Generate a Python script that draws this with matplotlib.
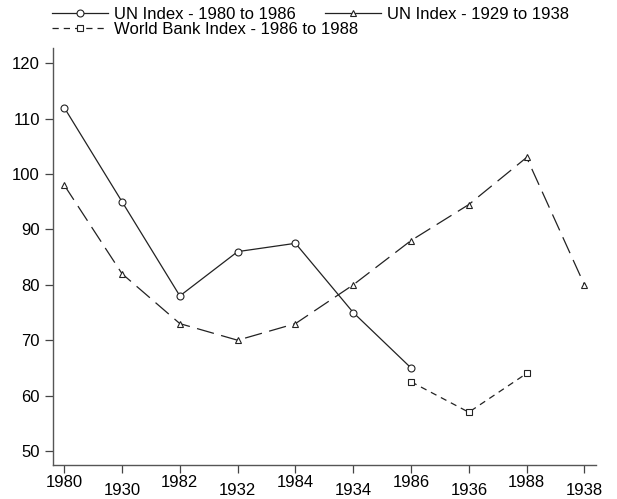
import matplotlib
matplotlib.use('Agg')
import matplotlib.pyplot as plt
from matplotlib.lines import Line2D

plt.rcParams['font.family'] = ['Liberation Sans', 'DejaVu Sans']

tick_labels = ['1980', '1930', '1982', '1932', '1984', '1934', '1986', '1936', '1988', '1938']
un_1980 = [112, 95, 78, 86, 87.5, 75, 65]
un_1929 = [98, 82, 73, 70, 73, 80, 88, 94.5, 103, 80]
wb_1986 = [62.5, 57, 64]
wb_start = 6

fig = plt.figure(figsize=(6.17, 4.99), dpi=100)
ax = fig.add_axes([0.0859, 0.0681, 0.880, 0.835])

c = '#222222'
l1, = ax.plot(range(len(un_1980)), un_1980, color=c, lw=0.9, marker='o', ms=5,
              mfc='white', mec=c, mew=0.8, label='UN Index - 1980 to 1986')
l2, = ax.plot(range(len(un_1929)), un_1929, color=c, lw=0.9, marker='^', ms=5,
              mfc='white', mec=c, mew=0.8, dashes=(14, 6), label='UN Index - 1929 to 1938')
l3, = ax.plot(range(wb_start, wb_start + len(wb_1986)), wb_1986, color=c, lw=0.9,
              marker='s', ms=5, mfc='white', mec=c, mew=0.8, dashes=(5, 4),
              label='World Bank Index - 1986 to 1988')

ax.set_xlim(-0.195, 9.2)
ax.set_ylim(47.47, 122.7)
ax.set_yticks([50, 60, 70, 80, 90, 100, 110, 120])

even = list(range(0, 10, 2))
odd = list(range(1, 10, 2))
ax.set_xticks(even, [tick_labels[i] for i in even])
ax.set_xticks(odd, [tick_labels[i] for i in odd], minor=True)
ax.tick_params(axis='both', which='both', labelsize=12, color='#444444', width=0.9, direction='out')
ax.tick_params(axis='x', which='major', length=5.8, pad=1.4)
ax.tick_params(axis='x', which='minor', length=5.8, pad=7.2)
ax.tick_params(axis='y', length=5.8, pad=3.6)

for s in ['top', 'right']:
    ax.spines[s].set_visible(False)
for s in ['left', 'bottom']:
    ax.spines[s].set_color('#555555')
    ax.spines[s].set_linewidth(1.0)

# legend handles: the long-dash series shows as a solid short stroke
h2 = Line2D([], [], color=c, lw=0.9, marker='^', ms=4.5, mfc='white', mec=c, mew=0.8,
            label=l2.get_label())

leg_kw = dict(loc='upper left', frameon=False, fontsize=12, handlelength=3.36,
              handletextpad=0.35, labelspacing=0.0, numpoints=1, borderpad=0.0,
              borderaxespad=0.0)
fig.legend(handles=[l1, l3], bbox_to_anchor=(0.0843, 0.986), **leg_kw)
fig.legend(handles=[h2], bbox_to_anchor=(0.527, 0.986), **leg_kw)

plt.savefig('out.png', dpi=100)
